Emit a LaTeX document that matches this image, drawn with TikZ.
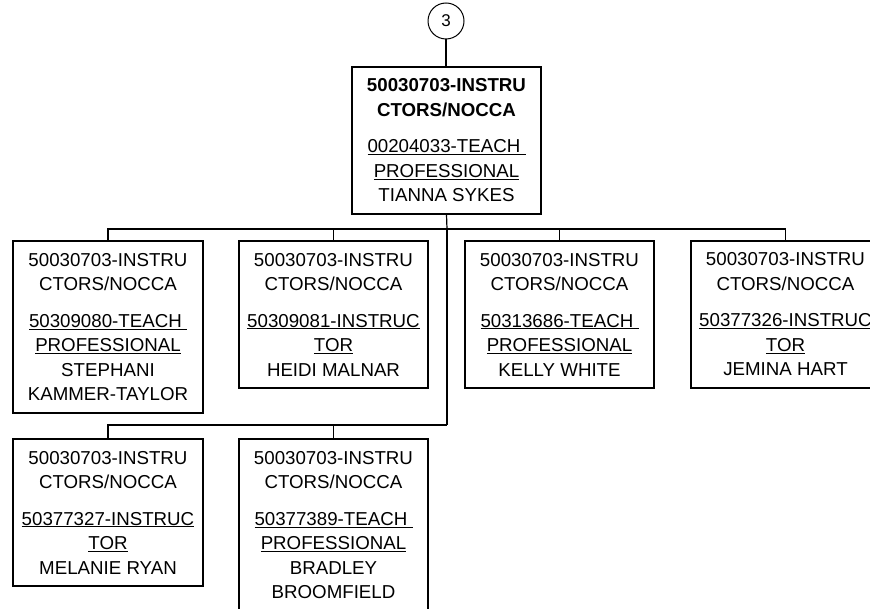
\documentclass[tikz,border=0pt]{standalone}
\usepackage{fontspec}
\setmainfont{Liberation Sans}
\begin{document}
\begin{tikzpicture}[x=1pt,y=-1pt,
  line width=1.2pt,
  box/.style={draw, line width=1.2pt, minimum width=190pt, align=center, inner sep=0pt,
    font=\fontsize{18.7}{24.5}\selectfont},
  bubble/.style={draw, circle, line width=1pt, minimum size=36pt, inner sep=0pt,
    font=\fontsize{17}{19}\selectfont}]
\useasboundingbox (0,0) rectangle (870,609);
\clip (0,0) rectangle (870,609);
\node[bubble] (c) at (446,21) {3};
\node[box, minimum width=189pt, minimum height=147pt] (t) at (446.5,140.5)
  {\textbf{50030703-INSTRU}\\\textbf{CTORS/NOCCA}\\[12pt]\underline{00204033-TEACH\ }\\\underline{PROFESSIONAL}\\TIANNA SYKES};
\node[box, minimum height=172pt] (b1) at (108,327)
  {50030703-INSTRU\\CTORS/NOCCA\\[12pt]\underline{50309080-TEACH\ }\\\underline{PROFESSIONAL}\\STEPHANI\\KAMMER-TAYLOR};
\node[box, minimum width=189pt, minimum height=147pt] (b2) at (333.5,314.5)
  {50030703-INSTRU\\CTORS/NOCCA\\[12pt]\underline{50309081-INSTRUC}\\\underline{TOR}\\HEIDI MALNAR};
\node[box, minimum width=189pt, minimum height=147pt] (b3) at (559.5,314.5)
  {50030703-INSTRU\\CTORS/NOCCA\\[12pt]\underline{50313686-TEACH\ }\\\underline{PROFESSIONAL}\\KELLY WHITE};
\node[box, minimum width=189pt, minimum height=147pt] (b4) at (785.5,314.5)
  {50030703-INSTRU\\CTORS/NOCCA\\[12pt]\underline{50377326-INSTRUC}\\\underline{TOR}\\JEMINA HART};
\node[box, minimum height=147pt] (b5) at (108,512.5)
  {50030703-INSTRU\\CTORS/NOCCA\\[12pt]\underline{50377327-INSTRUC}\\\underline{TOR}\\MELANIE RYAN};
\node[box, minimum width=189pt, minimum height=172pt] (b6) at (333.5,525)
  {50030703-INSTRU\\CTORS/NOCCA\\[12pt]\underline{50377389-TEACH\ }\\\underline{PROFESSIONAL}\\BRADLEY\\BROOMFIELD};
\coordinate (j1) at (447,229);
\coordinate (j2) at (447,425);
\draw (c.south) -- (c.south |- t.north);
\draw (t.south) -- (j1);
\draw (b1.north) |- (j1) -| (b4.north);
\draw (b2.north) -- (b2.north |- j1);
\draw (b3.north) -- (b3.north |- j1);
\draw (j1) -- (j2);
\draw (b5.north) |- (j2);
\draw (b6.north) -- (b6.north |- j2);
\end{tikzpicture}
\end{document}
